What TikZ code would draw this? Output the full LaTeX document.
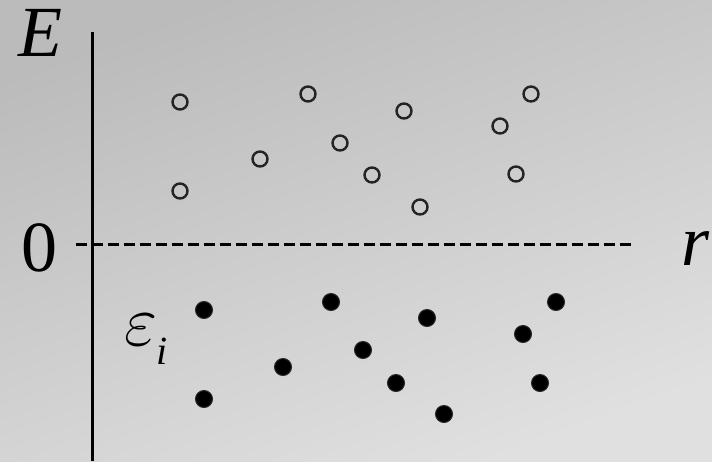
\documentclass[tikz,border=0pt]{standalone}
\usepackage{fix-cm}
\usepackage{fontspec}
\setmainfont{Liberation Serif}
\definecolor{bgtop}{RGB}{187,187,187}
\definecolor{bgbot}{RGB}{224,224,224}
\definecolor{ringcol}{RGB}{35,35,35}
\definecolor{dotedge}{RGB}{40,40,40}
\begin{document}
\begin{tikzpicture}[x=1pt,y=-1pt,
  opendot/.style={circle,draw=ringcol,line width=2.4pt,inner sep=0pt,minimum size=15pt},
  fulldot/.style={circle,fill=black,draw=dotedge,line width=1pt,inner sep=0pt,minimum size=17pt},
  biglabel/.style={inner sep=0pt,anchor=base,font=\fontsize{72}{72}\selectfont}]
\shade[top color=bgtop,bottom color=bgbot,shading angle=20] (0,0) rectangle (712,461);
\useasboundingbox (0,0) rectangle (712,461);
% axes
\coordinate (ytop) at (92,32);
\coordinate (ybot) at (92,461);
\coordinate (dl) at (76,244);
\coordinate (dr) at (632,244);
\draw[line width=3pt] (ytop) -- (ybot);
\draw[line width=3pt,dash pattern=on 11pt off 5pt] (dl) -- (dr);
% labels
\node[biglabel] (E) at (40,56) {\itshape E};
\node[biglabel] (zero) at (39,271) {0};
\node[biglabel] (r) at (696,265) {\itshape r};
\node[biglabel] (eps) at (141,345) {$\varepsilon$};
\node[inner sep=0pt,anchor=base,font=\fontsize{40}{40}\selectfont] (i) at (162,364) {\itshape i};
% open circles
\node[opendot] (o1) at (180,102) {};
\node[opendot] (o2) at (308,94) {};
\node[opendot] (o3) at (404,111) {};
\node[opendot] (o4) at (531,94) {};
\node[opendot] (o5) at (500,126) {};
\node[opendot] (o6) at (260,159) {};
\node[opendot] (o7) at (340,143) {};
\node[opendot] (o8) at (372,175) {};
\node[opendot] (o9) at (516,174) {};
\node[opendot] (o10) at (180,191) {};
\node[opendot] (o11) at (420,207) {};
% filled dots
\node[fulldot] (f1) at (204,310) {};
\node[fulldot] (f2) at (331,302) {};
\node[fulldot] (f3) at (427,318) {};
\node[fulldot] (f4) at (556,302) {};
\node[fulldot] (f5) at (523,334) {};
\node[fulldot] (f6) at (363,350) {};
\node[fulldot] (f7) at (283,367) {};
\node[fulldot] (f8) at (396,383) {};
\node[fulldot] (f9) at (540,383) {};
\node[fulldot] (f10) at (204,399) {};
\node[fulldot] (f11) at (444,414) {};
\end{tikzpicture}
\end{document}
